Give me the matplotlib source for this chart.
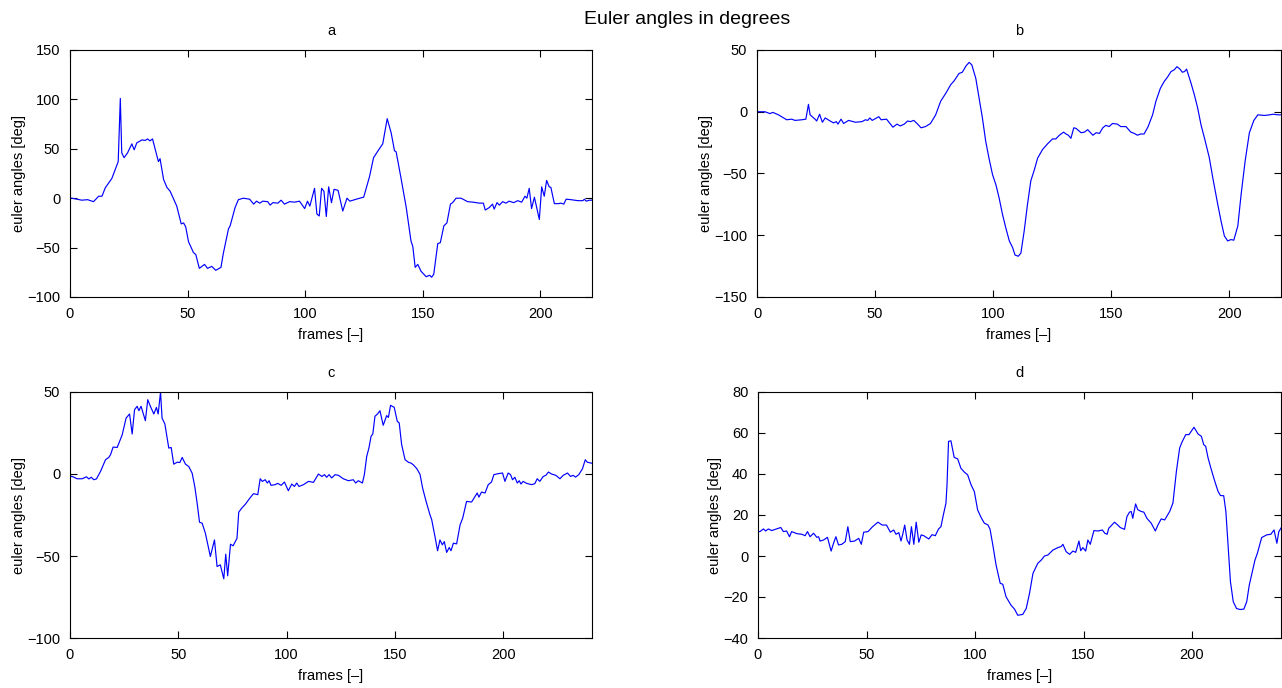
import matplotlib
matplotlib.use("Agg")
import matplotlib.pyplot as plt

# frame index / angle pairs for each of the four recorded sequences
a_frames = [0, 0.8, 5, 7.5, 10, 12.2, 13.6, 15, 17.8, 20, 20.5, 21.4, 22, 23, 24.5, 26.3, 27.3, 28.4,
            30.6, 32, 33, 34, 35.1, 37.6, 38.3, 39.8, 41.2, 42.6, 45.4, 47.3, 48.3, 49.2, 50.4, 52.5,
            53.5, 55, 57.2, 58.5, 60.3, 62, 64.2, 65.2, 67.4, 68.1, 70.2, 71.6, 73.7, 76.4, 78.1, 79.3,
            80.7, 82, 84.1, 85.1, 86.3, 88.4, 89.8, 91.2, 93.4, 95.5, 97.6, 99.8, 101, 102, 104, 105,
            106, 107, 108, 109, 110, 111.2, 112.3, 114, 116, 117.8, 119, 121.8, 123.2, 124.9, 127.4,
            129.1, 131, 133, 134.9, 136.6, 138, 138.7, 140.8, 143, 145, 145.8, 146.8, 147.9, 149.3,
            151.5, 152.9, 153.8, 154.7, 156.4, 157.5, 159, 160.3, 161.8, 162.7, 164.2, 166.3, 169.1,
            171.3, 172.7, 174.1, 175.8, 176.6, 178.3, 179.7, 180.4, 181.6, 182.6, 184, 185.4, 186.8,
            188.7, 190.4, 192.1, 193.5, 194.3, 195.3, 196.3, 197.5, 199.6, 200.6, 201.7, 202.7, 203.8,
            204.5, 206, 207.7, 208.8, 210, 211, 213.1, 216, 218.1, 218.8, 219.5, 221, 222]
a_angles = [0, 0, -2, -1.5, -3.5, 2, 2, 10.5, 20, 34, 37, 101, 46, 41, 46, 55, 49, 56,
            59, 58.5, 60, 58, 60, 37, 40, 19, 11, 7, -8, -26, -25, -29, -44, -55,
            -57, -71, -67, -71, -69, -73, -70, -56, -31, -28, -9.5, -1.5, 0, -1, -6, -3,
            -5, -3, -3.5, -7, -4.5, -5, -2, -6, -3.5, -4, -3, -10.5, -3, -8, 10, -16,
            -18, 10, 7, -18.5, 11.5, -4.5, 9, 8, -13, 0, -3, -1, 0, 1, 22,
            41, 48, 55, 80.5, 66, 48, 47, 20, -9.5, -43, -49, -70, -67, -74,
            -79.5, -78, -80, -77, -46, -45, -28, -25, -6, -4.5, 0, 0, -3.5,
            -4, -4.5, -5, -5, -12, -9.5, -6, -11, -4.5, -7, -3.5, -5, -3,
            -4.5, -2.5, -4, 2, 0, 10, -10.5, 1, -21.5, 11.5, 2, 18, 11.5,
            11, -5.5, -5.5, -5, -6, -1, -1.5, -2.5, -2.5, -1, -3, -2, -2]

b_frames = [0, 1.3, 3.4, 5.5, 6.7, 9.1, 12.6, 14.7, 16.1, 19, 20.7, 21.8, 22.5, 24.6, 25.3, 26.5,
            27.7, 28.9, 31, 32.4, 33.6, 34.3, 35.6, 36.7, 38.8, 41.7, 44.5, 45.9, 46.9, 47.8, 48.8,
            51.6, 52.6, 54.9, 55.9, 57.6, 59.3, 60.7, 62.4, 63.8, 65, 66.4, 67.8, 69.5, 71.4, 73.5,
            75.7, 77.8, 80, 82.1, 83.5, 85.6, 87, 88.5, 89.9, 91, 92.7, 94.1, 95.5, 96.9, 98.4, 99.8,
            101.2, 102.6, 104, 105.4, 106.9, 108.3, 109.3, 110.7, 111.8, 113.2, 114.6, 116, 117.5,
            118.9, 121, 123.1, 125.2, 126.6, 128.1, 129.9, 130.9, 131.9, 133, 134.2, 135.2, 137.3,
            138.7, 140.1, 142.3, 143.7, 145.1, 146.5, 147.8, 149.2, 150.6, 152.7, 154.1, 156.3,
            158.4, 159.8, 161.2, 162.6, 164, 165.7, 167.6, 169, 170.9, 172.5, 173.9, 175.4, 176.8,
            177.9, 179.1, 180.2, 181.1, 182, 183.9, 185.3, 186.7, 188.1, 189.6, 191.6, 193.1, 195.2,
            196.6, 198, 199.4, 200.8, 202, 203.7, 205.1, 206.8, 208.6, 210.5, 212.2, 215, 217.2,
            218.6, 220.7, 222]
b_angles = [0, 0, 0, -1.5, -0.5, -2.5, -6.5, -6, -7, -6.5, -6, 6, -2.5, -6, -7.5, -2,
            -8.5, -5, -7.5, -9, -8, -10, -6, -9.5, -7, -8.5, -8, -6.5, -7, -5, -7,
            -4, -6.5, -6, -8.5, -12.5, -10, -11.5, -10, -7.5, -8, -7, -9.5, -13, -12, -9.5,
            -2.5, 8.5, 15, 22, 25, 31, 32, 37, 40, 38, 27, 11, -5, -24, -38.7, -51,
            -59, -70, -83, -94, -104.6, -110, -116, -117, -114.5, -96.5, -75, -56, -47,
            -37.5, -30.5, -26, -22, -22, -19, -16.5, -18, -19, -21.5, -13, -13.5, -17,
            -16.5, -14.5, -19, -17, -17.5, -13, -11, -12, -9.5, -10, -12, -12,
            -16.5, -17.5, -19, -18, -18, -12, -2.5, 8.5, 19, 24.5, 28, 32.5, 34,
            36.5, 34.7, 32, 32.5, 34.5, 23, 13.7, 3, -10.5, -21.5, -37, -53.5, -75,
            -88.5, -100.5, -104.6, -103.5, -104, -92.5, -67, -40, -17, -7, -2.5, -3, -2.5,
            -2, -2.5, -2.5]

c_frames = [0, 1, 3.3, 5.6, 7.6, 8.7, 9.8, 11, 12.2, 14.1, 16.4, 17.9, 18.7, 19.9, 21.8, 24.1, 25.9,
            27.5, 28.7, 29.8, 31, 31.8, 32.8, 34.8, 35.9, 37.1, 38.7, 39.9, 40.7, 41.8, 42.5, 43.8,
            45.6, 46.7, 47.9, 49.5, 50.7, 51.8, 53.3, 54.8, 56.4, 57.6, 58.7, 59.8, 61, 62.5, 64.8,
            66.7, 67.9, 69.4, 71, 71.9, 72.8, 74.1, 75.3, 77.1, 77.9, 79.3, 80.8, 83.1, 84.7, 86.7,
            87.8, 88.8, 90.1, 91.1, 91.9, 92.8, 94.7, 95.9, 97.5, 99, 100.8, 102.4, 103.6, 104.7,
            105.7, 107.8, 110.1, 112.4, 114.7, 116.3, 117.5, 118.5, 119.6, 120.8, 122.4, 123.9,
            126.2, 128.5, 130.8, 131.9, 133.1, 135, 135.9, 137, 138, 139, 139.8, 140.8, 142, 143.1,
            144.6, 146.2, 147, 148, 149.7, 151.1, 152, 153.1, 154.7, 156.2, 157.5, 158.5, 160.1,
            161.6, 162.8, 164.4, 166.2, 167, 168.5, 169.7, 170.8, 171.9, 172.8, 173.9, 175.1, 175.9,
            177, 178.5, 180.1, 181.3, 183.1, 185.4, 187, 188, 188.8, 190, 191.6, 193.1, 194.6,
            195.7, 197.7, 199.7, 200.8, 202.3, 203.4, 204.3, 205.4, 206.5, 207.4, 208.2, 209.2,
            210.8, 213.1, 214.6, 215.7, 216.9, 218.5, 219.7, 220.9, 222.3, 224.3, 226.2, 227.7,
            229.7, 231.1, 232.3, 233.4, 234.9, 236.6, 237.9, 238.8, 240.8]
c_angles = [-1.5, -1.5, -2.9, -2.9, -1.7, -3, -2, -3.5, -3, 1.6, 8.7, 10.1, 11.7, 16.4, 16.2, 23.9, 34.1,
            36.6, 24.4, 39.2, 41.3, 38.6, 41.3, 32.5, 45.3, 41.3, 36.6, 40.6, 36.6, 50, 34.1, 30.5,
            15.8, 16.2, 6, 7.2, 7, 10.1, 6, 4.6, 0.5, -7.6, -17.8, -29.4, -30, -36.1, -50.3,
            -40.2, -56.4, -55.4, -63.9, -48.9, -62.1, -42.8, -43.8, -39.2, -23.3, -20.8, -18.7, -14.6, -12, -12.6,
            -2.9, -4.5, -3.5, -5.5, -4.1, -6.9, -6.5, -5.7, -6.9, -4.9, -10.2, -6.1, -7.6, -5.5,
            -7.6, -6.5, -4.5, -5.1, 0, -1.5, -0.4, -2, -0.4, -2.4, -0.4, -0.8,
            -2.9, -4.1, -3.5, -5.5, -4.1, -5.5, -0.4, 10.8, 15.8, 23, 24.4, 35.2, 36.6, 38.6,
            29.7, 35.6, 34.5, 41.9, 40.6, 32.1, 31.1, 18, 8.7, 7.2, 6.6, 5.6, 3.3,
            -0.2, -8.6, -16.7, -24.9, -27.9, -38.1, -46.8, -40.2, -43.2, -41.2, -47.8, -44.8, -46.8,
            -42.2, -42.6, -31, -26.9, -16.7, -17.1, -13.7, -11.6, -14.1, -11, -11.6, -6.5, -4.9,
            -0.4, 0.2, 0.6, -4.5, 0.6, -0.4, -3.5, -2, -5.5, -4.1, -6.1, -4.5,
            -5.7, -6.5, -5.9, -2.9, -4.5, -1.5, -0.8, 1.2, 0, -0.8, -2.9, -0.8,
            0.6, -1.5, -0.8, -1.9, -0.4, 3.2, 8.7, 7.2, 6.6]

d_frames = [0, 0.9, 2.5, 3.5, 4.8, 6.3, 8.6, 10.5, 11.7, 13.2, 14.5, 15.5, 17.9, 20.2, 21.7, 22.8, 24,
            25.6, 27.1, 27.9, 28.6, 30.2, 32, 33.7, 34.8, 35.9, 37.1, 38.6, 40.2, 41.4, 42.5, 44.5,
            46.4, 47.6, 48.7, 50.7, 52.8, 55.3, 57.2, 59.2, 61, 62.5, 63.6, 64.9, 65.9, 66.7, 67.6,
            68.7, 69.8, 70.7, 71.8, 72.9, 74.1, 75.2, 76.4, 78.7, 80.2, 81.7, 83.2, 84.3, 85.4, 86.6,
            87.1, 87.8, 88.9, 90.4, 92, 93.5, 95.1, 96.6, 98.2, 99.7, 101.2, 102.8, 104.3, 105.9,
            106.9, 108.2, 109.7, 111.6, 112.8, 114.3, 116.6, 118.2, 119.7, 122, 123.6, 125.1, 126.7,
            128.9, 130.5, 132, 133.6, 135.9, 138.2, 139.7, 140.5, 142, 143.6, 145.1, 146.4, 147.9,
            148.7, 149.7, 151, 152, 153.1, 154.8, 156.7, 158.7, 159.8, 160.9, 161.6, 164.3, 165.8,
            166.9, 168.9, 170, 171.2, 172, 172.7, 174, 175, 176.6, 177.8, 179.2, 181.2, 183.1, 184.3,
            185.8, 187.4, 189.7, 191.2, 192.8, 194.3, 195.4, 197.1, 198.6, 200.9, 202.8, 204.3,
            205.4, 206.3, 207.4, 208.9, 210.5, 212, 213.1, 214.6, 215.6, 216.6, 217.7, 219, 220.5,
            222.1, 223.9, 225.2, 226.4, 227.5, 229, 230.1, 232.1, 234.4, 236.3, 237.8, 239.1, 240,
            241.4]
d_angles = [12, 11.9, 13.2, 12.2, 13.2, 12.4, 13.2, 13.9, 11.9, 12.2, 9.4, 11.9, 10.9, 10.6, 9.9, 11.9, 9.4,
            11.1, 9.1, 9.4, 7.3, 7.8, 9.1, 2.4, 6.2, 9.4, 5.4, 5.7, 7, 14.3, 7, 7.3,
            8.6, 5.7, 11.6, 11.9, 14.3, 16.5, 15.1, 15.1, 11.6, 12.7, 10.6, 11.4, 7.3, 10.6, 15.1,
            7.8, 5.7, 14.3, 5.7, 16.5, 6.7, 10.3, 9.9, 8.3, 10.4, 9.9, 13.2, 14.3, 20, 25.7,
            34.7, 55.9, 56.2, 48.1, 47.4, 42.8, 40.9, 39.6, 34.7, 31.4, 22.5, 18.8, 16, 15.2,
            13.2, 5.4, -4.4, -13.3, -13.8, -19.9, -24, -25.9, -28.9, -28.5, -25.6, -18.3, -8.5,
            -3.6, -2, 0, 0.5, 2.9, 4.1, 4.6, 5.7, 2.1, 0.8, 2.4, 1.8, 7.3,
            2.6, 4.1, 2.4, 7.8, 5.7, 12.4, 12.2, 12.7, 11.1, 10.6, 13.5, 16.5, 15.1,
            13.9, 13, 19.2, 21.4, 21.7, 18.4, 25.4, 22.6, 21.7, 21.4, 18.4, 16, 12.2, 15.1,
            18.1, 17.6, 21.7, 25.8, 41.3, 52.7, 55.6, 59.2, 59.2, 62.8, 59.5, 58.4,
            54.3, 53.5, 47.8, 42.1, 36.4, 31.5, 29.5, 29.4, 21.7, 5.4, -12.5, -22.3, -25.6,
            -26.1, -25.9, -22.3, -14.1, -8.9, -2, 1.3, 9, 10.3, 10.6, 12.7, 6.2, 11.9,
            14.3]

panel_titles = ["a", "b", "c", "d"]
x_limits = [222, 222, 241, 241]
y_limits = [(-100, 150), (-150, 50), (-100, 50), (-40, 80)]
y_steps = [50, 50, 50, 20]

FONT = "Liberation Sans"


def draw_panel(fig, rect, frames, angles, title, xmax, ylim, ystep):
    ax = fig.add_axes(rect)
    ax.plot(frames, angles, color="#0000ff", linewidth=0.85)
    ax.set_xlim(0, xmax)
    ax.set_ylim(*ylim)
    ax.set_xticks(range(0, xmax + 1, 50))
    ax.set_yticks(range(ylim[0], ylim[1] + 1, ystep))
    ax.tick_params(direction="in", top=True, right=True, length=5, labelsize=10.5, pad=7)
    for lbl in ax.get_xticklabels() + ax.get_yticklabels():
        lbl.set_fontfamily(FONT)
    ax.set_title(title, fontsize=10.5, family=FONT, pad=11)
    ax.set_xlabel("frames [\u2013]", fontsize=10.5, family=FONT, labelpad=5)
    ax.set_ylabel("euler angles [deg]", fontsize=10.5, family=FONT, labelpad=1)
    return ax


def main():
    fig = plt.figure(figsize=(12.82, 6.88), dpi=100)
    W, H = 1282.0, 688.0
    # axes boxes in pixel terms: left, top, right, bottom
    boxes = [(70, 50, 592, 297), (757, 50, 1281, 297), (70, 392, 592, 638), (758, 392, 1281, 638)]
    data = [(a_frames, a_angles), (b_frames, b_angles), (c_frames, c_angles), (d_frames, d_angles)]

    for i, (l, t, r, b) in enumerate(boxes):
        rect = [l / W, 1 - b / H, (r - l) / W, (b - t) / H]
        frames, angles = data[i]
        draw_panel(fig, rect, frames, angles, panel_titles[i], x_limits[i], y_limits[i], y_steps[i])

    fig.text(687 / W, 1 - 19 / H, "Euler angles in degrees", ha="center", va="center",
             fontsize=14, family=FONT)
    fig.savefig("out.png", dpi=100)
    plt.close(fig)


if __name__ == "__main__":
    main()
